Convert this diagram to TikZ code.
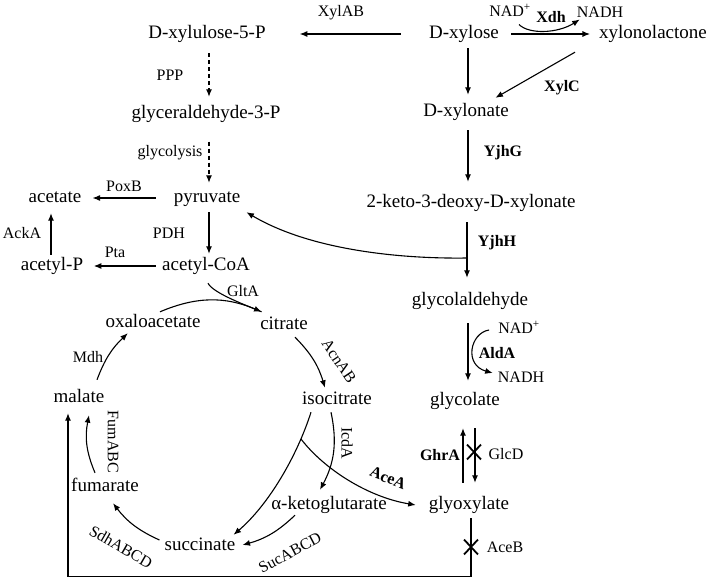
\documentclass[tikz,border=0pt]{standalone}
\usepackage{fontspec}
\setmainfont{Liberation Serif}
\usetikzlibrary{arrows.meta,shapes.misc}
\tikzstyle{metab}=[inner sep=1pt, text height=13pt, text depth=4pt,
		font=\fontsize{19}{22}\selectfont]
\tikzstyle{enz}=[inner sep=1pt, font=\fontsize{16}{19}\selectfont]
\tikzstyle{benz}=[inner sep=1pt, font=\fontsize{16}{19}\selectfont\bfseries]
\tikzstyle{line}=[-, line width=1.1pt]
\tikzstyle{rxn}=[->, line width=1.1pt]
\tikzstyle{lumped}=[rxn, dash pattern=on 4pt off 3pt]
\tikzstyle{blocked}=[draw, cross out, line width=1.8pt, inner sep=0pt,
		minimum width=12pt, minimum height=13pt]

\begin{document}
\begin{tikzpicture}[x=1pt,y=1pt,>={Latex[length=7.5pt,width=6pt]}]
    \useasboundingbox (0,0) rectangle (709,-580);

    % xylose (Dahms) branch
    \node (xylose) [metab] at (464,-34) {D-xylose};
    \node (lactone) [metab] at (653,-34) {xylonolactone};
    \node (xylonate) [metab] at (466,-112) {D-xylonate};
    \node (kdx) [metab] at (471,-203) {2-keto-3-deoxy-D-xylonate};
    \node (glyald) [metab] at (470,-301) {glycolaldehyde};
    \node (glycolate) [metab] at (465,-401) {glycolate};
    \node (glyox) [metab] at (469,-505) {glyoxylate};

    % pentose phosphate and glycolysis
    \node (xylu) [metab] at (207,-34) {D-xylulose-5-P};
    \node (gap) [metab] at (206,-114) {glyceraldehyde-3-P};
    \node (pyr) [metab] at (207,-198) {pyruvate};
    \node (acetate) [metab] at (55,-198) {acetate};
    \node (acp) [metab] at (52,-266) {acetyl-P};
    \node (accoa) [metab] at (206,-266) {acetyl-CoA};

    % TCA cycle
    \node (oaa) [metab] at (153,-323) {oxaloacetate};
    \node (cit) [metab] at (284,-325) {citrate};
    \node (icit) [metab] at (337,-400) {isocitrate};
    \node (akg) [metab] at (329,-505) {α-ketoglutarate};
    \node (succ) [metab] at (200,-546) {succinate};
    \node (fum) [metab] at (105,-487) {fumarate};
    \node (mal) [metab] at (79,-398) {malate};

    % cofactors
    \node (nad1) [enz] at (510,-10) {NAD\textsuperscript{+}};
    \node (nadh1) [enz] at (600,-12) {NADH};
    \node (nad2) [enz] at (519,-327) {NAD\textsuperscript{+}};
    \node (nadh2) [enz] at (521,-377) {NADH};

    % enzymes
    \node (xylab) [enz] at (341,-13) {XylAB};
    \node (ppp) [enz] at (170,-75) {PPP};
    \node (glyc) [enz] at (170,-153) {glycolysis};
    \node (poxb) [enz] at (124,-186) {PoxB};
    \node (acka) [enz] at (22,-233) {AckA};
    \node (pdh) [enz] at (169,-233) {PDH};
    \node (pta) [enz] at (115,-252) {Pta};
    \node (glta) [enz] at (243,-291) {GltA};
    \node (mdh) [enz] at (88,-357) {Mdh};
    \node (acnab) [enz, rotate=-56] at (339,-361) {AcnAB};
    \node (fumabc) [enz, rotate=-90] at (113,-442) {FumABC};
    \node (icda) [enz, rotate=-90] at (347,-443) {IcdA};
    \node (sdh) [enz, rotate=-30] at (121,-547) {SdhABCD};
    \node (suc) [enz, rotate=28] at (290,-553) {SucABCD};
    \node (acea) [benz, rotate=-22] at (388,-478) {AceA};
    \node (xdh) [benz] at (551,-17) {Xdh};
    \node (xylc) [benz] at (562,-88) {XylC};
    \node (yjhg) [benz] at (503,-153) {YjhG};
    \node (yjhh) [benz] at (497,-243) {YjhH};
    \node (alda) [benz] at (497,-353) {AldA};
    \node (ghra) [benz] at (440,-455) {GhrA};
    \node (glcd) [enz] at (506,-454) {GlcD};
    \node (aceb) [enz] at (505,-547) {AceB};

    % xylose routes
    \draw[rxn, shorten <=27pt, shorten >=33pt] (xylose.west) -- (xylu.east);
    \draw[rxn, shorten <=11pt, shorten >=8pt] (xylose.east) -- (lactone.west);
    \draw[rxn] ([xshift=9pt,yshift=-7pt]nad1.south) .. controls +(10,-10) and +(-22,-14) .. ([xshift=4pt,yshift=-1pt]nadh1.south west);
    \draw[rxn, shorten <=4.5pt, shorten >=7.5pt] ([xshift=4pt]xylose.south) -- ([xshift=2pt]xylonate.north);
    \draw[rxn] ([xshift=-23pt,yshift=-8.5pt]lactone.south west) -- ([xshift=-14.5pt,yshift=4.5pt]xylonate.north east);
    \draw[rxn, shorten <=8.5pt, shorten >=11.5pt] ([xshift=2pt]xylonate.south) -- ([xshift=-3pt]kdx.north);
    \draw[rxn, shorten <=9.5pt, shorten >=13.5pt] ([xshift=-4pt]kdx.south) -- ([xshift=-3pt]glyald.north);
    \coordinate (split) at (467,-258);
    \draw[rxn] (split) .. controls (400,-259) and (310,-250) .. ([xshift=5pt,yshift=-4.5pt]pyr.south east);
    \draw[rxn, shorten <=12.5pt, shorten >=10.5pt] ([xshift=-2pt]glyald.south) -- ([xshift=3pt]glycolate.north);
    \draw[rxn] ([xshift=-8pt,yshift=-3pt]nad2.west) .. controls +(-19,-3) and +(-29,8) .. ([xshift=-4pt,yshift=4pt]nadh2.west);
    \draw[rxn, shorten <=12.5pt, shorten >=17.5pt] ([xshift=-6pt]glyox.north) -- ([xshift=-2pt]glycolate.south);
    \draw[rxn, shorten <=17.5pt, shorten >=12.5pt] ([xshift=10pt]glycolate.south) -- ([xshift=6pt]glyox.north);
    \node (stop1) [blocked] at (474,-452) {};
    \draw[rxn, shorten <=3.5pt, shorten >=5.5pt] ([xshift=2pt]glyox.south) -- ++(0,-61.5) -| ([xshift=-11pt]mal.south);
    \node (stop2) [blocked] at (471,-547) {};

    % PPP, glycolysis, acetate
    \draw[lumped, shorten <=9.5pt, shorten >=7.5pt] ([xshift=2pt]xylu.south) -- ([xshift=3pt]gap.north);
    \draw[lumped, shorten <=18pt, shorten >=5.5pt] ([xshift=3pt]gap.south) -- ([xshift=2pt]pyr.north);
    \draw[rxn, shorten <=17pt, shorten >=10pt] (pyr.west) -- (acetate.east);
    \draw[rxn, shorten <=1.5pt, shorten >=5.5pt] ([xshift=-1pt]acp.north) -- ([xshift=-4pt]acetate.south);
    \draw[rxn, shorten <=5.5pt, shorten >=9.5pt] (accoa.west) -- (acp.east);
    \draw[rxn, shorten <=4.5pt, shorten >=2.5pt] ([xshift=2pt]pyr.south) -- ([xshift=3pt]accoa.north);

    % TCA cycle and glyoxylate shunt
    \draw[rxn] ([xshift=7pt,yshift=1.5pt]oaa.north) to[bend left=23] ([xshift=2.5pt,yshift=3.5pt]cit.north west);
    \draw[line] ([xshift=2pt,yshift=-7.5pt]accoa.south) .. controls +(5,-10) and +(-15,6.4) .. ([xshift=2.5pt,yshift=3.5pt]cit.north west);
    \draw[rxn] ([xshift=11pt,yshift=-2.5pt]cit.south) to[bend left=14] ([xshift=-12pt,yshift=2.5pt]icit.north);
    \draw[rxn] ([xshift=-6pt,yshift=-2.5pt]icit.south) to[bend left=20] ([xshift=-9pt,yshift=5.5pt]akg.north);
    \draw[rxn] ([xshift=-34pt,yshift=-0.5pt]akg.south) to[bend left=14] ([xshift=6pt,yshift=1pt]succ.east);
    \draw[rxn] ([xshift=-26pt,yshift=-2.5pt]icit.south) .. controls +(-14,-44) and +(35,30) .. ([xshift=-3pt,yshift=1.5pt]succ.north east);
    \coordinate (shunt) at (301,-439);
    \draw[rxn] (shunt) .. controls +(23,-30) and +(-48,8) .. ([xshift=-12pt]glyox.west);
    \draw[rxn] ([xshift=-4pt,yshift=6pt]succ.west) to[bend left=14] ([xshift=8pt,yshift=-6.5pt]fum.south);
    \draw[rxn] ([xshift=-10pt,yshift=4.5pt]fum.north) to[bend left=17] ([xshift=10pt,yshift=-7.5pt]mal.south);
    \draw[rxn] ([xshift=18pt,yshift=8.5pt]mal.north) to[bend left=13] ([xshift=23.5pt,yshift=-0.5pt]oaa.south west);

\end{tikzpicture}
\end{document}
